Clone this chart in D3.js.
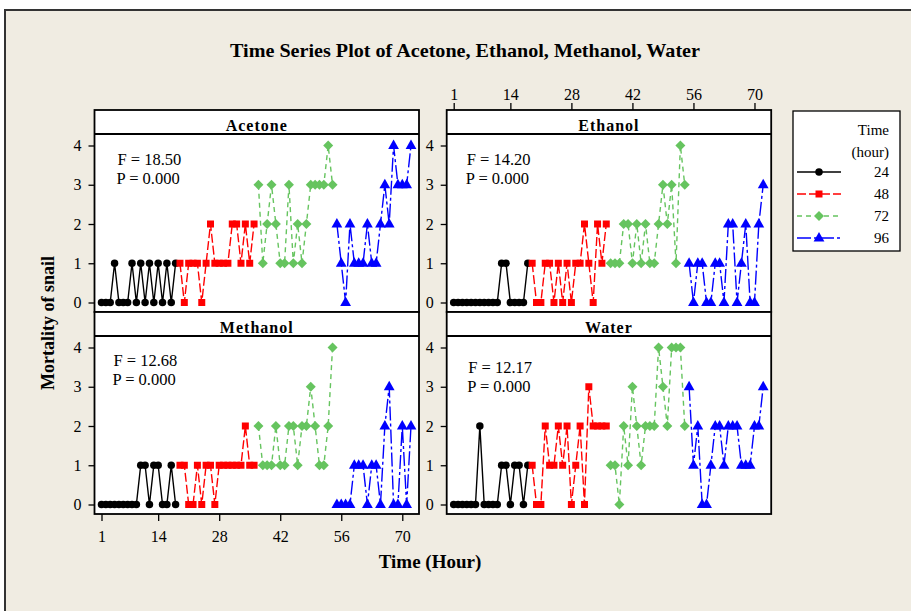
<!DOCTYPE html>
<html><head><meta charset="utf-8">
<script src="https://cdn.jsdelivr.net/npm/d3@7"></script>
<style>body{margin:0;background:#ffffff;} svg{display:block}</style>
</head><body><svg id="c" width="911" height="611"></svg>
<script>
// ---------------- data ----------------
const panelNames = ["Acetone", "Ethanol", "Methanol", "Water"];
const fValues = ["18.50", "14.20", "12.68", "12.17"];
const pValues = ["0.000", "0.000", "0.000", "0.000"];
const groupLabels = ["24", "48", "72", "96"];
const xTicks = [1, 14, 28, 42, 56, 70];
const yTicks = [0, 1, 2, 3, 4];

const acetone24 = [0,0,0,1,0,0,0,1,0,1,0,1,0,1,0,1,0,1];
const acetone48 = [1,0,1,1,1,0,1,2,1,1,1,1,2,2,1,2,1,2];
const acetone72 = [3,1,2,3,2,1,1,3,1,2,1,2,3,3,3,3,4,3];
const acetone96 = [2,1,0,2,1,1,1,2,1,1,2,3,2,4,3,3,3,4];

const ethanol24 = [0,0,0,0,0,0,0,0,0,0,0,1,1,0,0,0,0,1];
const ethanol48 = [1,0,0,1,1,0,1,0,1,0,1,1,2,1,0,2,1,2];
const ethanol72 = [1,1,1,2,2,1,2,1,2,1,1,2,3,2,3,1,4,3];
const ethanol96 = [1,0,1,1,0,0,1,1,0,2,2,0,1,2,0,0,2,3];

const methanol24 = [0,0,0,0,0,0,0,0,0,1,1,0,1,1,0,0,1,0];
const methanol48 = [1,1,0,0,1,0,1,1,0,1,1,1,1,1,1,2,1,1];
const methanol72 = [2,1,1,1,2,1,1,2,2,1,2,2,3,2,1,1,2,4];
const methanol96 = [0,0,0,0,1,1,1,0,1,1,0,2,3,0,0,2,0,2];

const water24 = [0,0,0,0,0,0,2,0,0,0,0,1,1,0,1,1,0,1];
const water48 = [1,0,0,2,1,1,2,1,2,0,1,2,0,3,2,2,2,2];
const water72 = [1,1,0,2,1,3,2,1,2,2,2,4,3,2,4,4,4,2];
const water96 = [3,1,2,0,0,1,2,2,1,2,2,2,1,1,1,2,2,3];

const panelSeries = [
  [acetone24, acetone48, acetone72, acetone96],
  [ethanol24, ethanol48, ethanol72, ethanol96],
  [methanol24, methanol48, methanol72, methanol96],
  [water24, water48, water72, water96]
];

// ---------------- layout / style ----------------
const svg = d3.select("#c");
const serif = "'Liberation Serif','Times New Roman',serif";
const colors = ["#000000", "#ff0000", "#66c45f", "#0000ff"];
const dashes = [null, "9,3", "5,4", "14,3,3,3"];
const PW = 324.5, stripH = 24, plotH = 178;
const boxes = [
  {x0: 94.5, y0: 110, fx: 23, fy: 31, py: 50},
  {x0: 446.7, y0: 110, fx: 20, fy: 31, py: 50},
  {x0: 94.5, y0: 312, fx: 19, fy: 30, py: 49},
  {x0: 446.7, y0: 312, fx: 21.5, fy: 37, py: 56}
];

svg.append("rect").attr("x", 5).attr("y", 10).attr("width", 920).attr("height", 620)
  .attr("fill", "#f0ece2").attr("stroke", "#333").attr("stroke-width", 2);

svg.append("text").attr("x", 465).attr("y", 57).attr("text-anchor", "middle")
  .attr("font-family", serif).attr("font-weight", "bold").attr("font-size", 19)
  .attr("textLength", 470).attr("lengthAdjust", "spacingAndGlyphs")
  .text("Time Series Plot of Acetone, Ethanol, Methanol, Water");

function markerPath(g) {
  if (g === 1) return "M-3.5,-3.5H3.5V3.5H-3.5Z";
  if (g === 2) return "M0,-5L5,0L0,5L-5,0Z";
  if (g === 3) return "M0,-6L5.4,3.5L-5.4,3.5Z";
  return d3.symbol().type(d3.symbolCircle).size(44)();
}

panelSeries.forEach((series, p) => {
  const b = boxes[p];
  const plotTop = b.y0 + stripH, plotBot = plotTop + plotH;
  const x = d3.scaleLinear().domain([1, 72]).range([b.x0 + 7, b.x0 + PW - 8]);
  const y = d3.scaleLinear().domain([0, 4]).range([plotBot - 9.5, plotTop + 11.5]);
  const g = svg.append("g");

  g.append("rect").attr("x", b.x0).attr("y", b.y0).attr("width", PW).attr("height", stripH + plotH)
    .attr("fill", "#fff").attr("stroke", "#000").attr("stroke-width", 1.8);
  g.append("line").attr("x1", b.x0).attr("x2", b.x0 + PW).attr("y1", plotTop).attr("y2", plotTop)
    .attr("stroke", "#000").attr("stroke-width", 1.8);
  g.append("text").attr("x", b.x0 + PW / 2).attr("y", b.y0 + 20.5).attr("text-anchor", "middle")
    .attr("font-family", serif).attr("font-weight", "bold").attr("font-size", 16)
    .attr("letter-spacing", 1).text(panelNames[p]);

  // y axis
  const ya = g.append("g").attr("transform", `translate(${b.x0},0)`)
    .call(d3.axisLeft(y).tickValues(yTicks).tickFormat(d3.format("d")).tickSize(6).tickPadding(7));
  ya.select(".domain").remove();
  ya.selectAll("line").attr("stroke", "#000").attr("stroke-width", 1.3);
  ya.selectAll("text").attr("font-family", serif).attr("font-size", 16).attr("fill", "#000");

  if (p === 2) {
    const xa = g.append("g").attr("transform", `translate(0,${plotBot})`)
      .call(d3.axisBottom(x).tickValues(xTicks).tickSize(7).tickPadding(10));
    xa.select(".domain").remove();
    xa.selectAll("line").attr("stroke", "#000").attr("stroke-width", 1.3);
    xa.selectAll("text").attr("font-family", serif).attr("font-size", 16).attr("fill", "#000");
  }
  if (p === 1) {
    const xa = g.append("g").attr("transform", `translate(0,${b.y0})`)
      .call(d3.axisTop(x).tickValues(xTicks).tickSize(7).tickPadding(3));
    xa.select(".domain").remove();
    xa.selectAll("line").attr("stroke", "#000").attr("stroke-width", 1.3);
    xa.selectAll("text").attr("font-family", serif).attr("font-size", 16).attr("fill", "#000");
  }

  g.append("text").attr("x", b.x0 + b.fx).attr("y", plotTop + b.fy)
    .attr("font-family", serif).attr("font-size", 16.5).text("F = " + fValues[p]);
  g.append("text").attr("x", b.x0 + b.fx - 1).attr("y", plotTop + b.py)
    .attr("font-family", serif).attr("font-size", 16.5).text("P = " + pValues[p]);

  series.forEach((vals, gi) => {
    const pts = vals.map((v, k) => ({t: gi * vals.length + k + 1, v: v}));
    const line = d3.line().x(d => x(d.t)).y(d => y(d.v));
    g.append("path").datum(pts).attr("d", line).attr("fill", "none")
      .attr("stroke", colors[gi]).attr("stroke-width", 1.4)
      .attr("stroke-dasharray", dashes[gi]);
    g.selectAll(null).data(pts).enter().append("path")
      .attr("transform", d => `translate(${x(d.t)},${y(d.v)})`)
      .attr("d", markerPath(gi)).attr("fill", colors[gi]);
  });
});

// axis titles
svg.append("text").attr("x", 430).attr("y", 568).attr("text-anchor", "middle")
  .attr("font-family", serif).attr("font-weight", "bold").attr("font-size", 19).text("Time (Hour)");
svg.append("text").attr("transform", "translate(54,323) rotate(-90)").attr("text-anchor", "middle")
  .attr("font-family", serif).attr("font-weight", "bold").attr("font-size", 18).text("Mortality of snail");

// legend
const lg = svg.append("g");
lg.append("rect").attr("x", 793).attr("y", 111).attr("width", 107).attr("height", 140)
  .attr("fill", "#fff").attr("stroke", "#000").attr("stroke-width", 1.3);
lg.append("text").attr("x", 889).attr("y", 135).attr("text-anchor", "end")
  .attr("font-family", serif).attr("font-size", 15).text("Time");
lg.append("text").attr("x", 889).attr("y", 157).attr("text-anchor", "end")
  .attr("font-family", serif).attr("font-size", 15).text("(hour)");
const rowY = d3.scalePoint().domain(groupLabels).range([172, 238]);
groupLabels.forEach((lab, gi) => {
  const yy = rowY(lab);
  lg.append("line").attr("x1", 797).attr("x2", 841).attr("y1", yy).attr("y2", yy)
    .attr("stroke", colors[gi]).attr("stroke-width", 1.4).attr("stroke-dasharray", dashes[gi]);
  lg.append("path").attr("transform", `translate(819,${yy})`).attr("d", markerPath(gi)).attr("fill", colors[gi]);
  lg.append("text").attr("x", 889).attr("y", yy + 5).attr("text-anchor", "end")
    .attr("font-family", serif).attr("font-size", 15).text(lab);
});
</script></body></html>
